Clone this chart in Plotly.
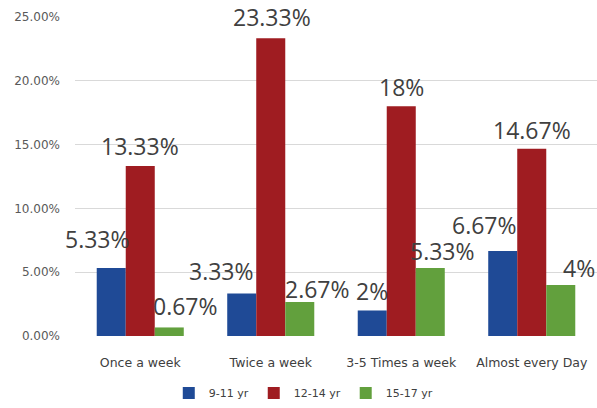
import plotly.graph_objects as go

# Frequency by age group
categories = ["Once a week", "Twice a week", "3-5 Times a week", "Almost every Day"]
series_names = ["9-11 yr", "12-14 yr", "15-17 yr"]
age_9_11 = [5.33, 3.33, 2.0, 6.67]
age_12_14 = [13.33, 23.33, 18.0, 14.67]
age_15_17 = [0.67, 2.67, 5.33, 4.0]
label_text = [
    ["5.33%", "3.33%", "2%", "6.67%"],
    ["13.33%", "23.33%", "18%", "14.67%"],
    ["0.67%", "2.67%", "5.33%", "4%"],
]
y_ticks = [0, 5, 10, 15, 20, 25]
y_tick_text = ["0.00%", "5.00%", "10.00%", "15.00%", "20.00%", "25.00%"]

colors = ["#1f4a96", "#9f1c21", "#62a03d"]
series_values = [age_9_11, age_12_14, age_15_17]

# hand-placed label nudges (px): (dx, dy above bar top)
label_nudge = [
    [(-14, 29), (-20, 23), (0, 19), (-18, 26)],
    [(0, 20), (1, 21), (0, 19), (0, 19)],
    [(16, 21), (18, 13), (12, 17), (18, 17)],
]

bargap = 0.333
bar_w = (1 - bargap) / len(series_names)

fig = go.Figure()
for name, vals, col in zip(series_names, series_values, colors):
    fig.add_trace(go.Bar(
        x=categories, y=vals, name=name,
        marker=dict(color=col, line=dict(width=0)),
    ))

annotations = []
for j, vals in enumerate(series_values):
    for i, v in enumerate(vals):
        dx, dy = label_nudge[j][i]
        annotations.append(dict(
            x=i + (j - 1) * bar_w, y=v, xref="x", yref="y",
            text=label_text[j][i], showarrow=False,
            xanchor="center", yanchor="middle",
            xshift=dx, yshift=dy,
            font=dict(family="Open Sans", size=23, color="#404040"),
        ))

fig.update_layout(
    width=597, height=408,
    margin=dict(l=75, r=0, t=17, b=72, autoexpand=False),
    paper_bgcolor="white", plot_bgcolor="white",
    barmode="group", bargap=bargap, bargroupgap=0,
    showlegend=True,
    legend=dict(
        orientation="h", xref="container", yref="container",
        x=0.508, y=0.037, xanchor="center", yanchor="middle",
        font=dict(family="DejaVu Sans", size=11, color="#404040"),
        itemwidth=30, tracegroupgap=0,
    ),
    annotations=annotations,
    font=dict(family="DejaVu Sans", color="#595959"),
)
fig.update_xaxes(
    type="category", range=[-0.5, len(categories) - 0.5],
    showgrid=False, showline=False, ticks="",
    tickfont=dict(family="DejaVu Sans", size=12.5, color="#404040"),
    ticklabelstandoff=17, automargin=False,
)
fig.update_yaxes(
    range=[0, 25], tickvals=y_ticks, ticktext=y_tick_text,
    showgrid=True, gridcolor="#d9d9d9", gridwidth=1,
    zeroline=False, showline=False, ticks="",
    tickfont=dict(family="DejaVu Sans", size=12, color="#595959"),
    ticklabelstandoff=14, automargin=False,
)

fig.write_html("out.html")
